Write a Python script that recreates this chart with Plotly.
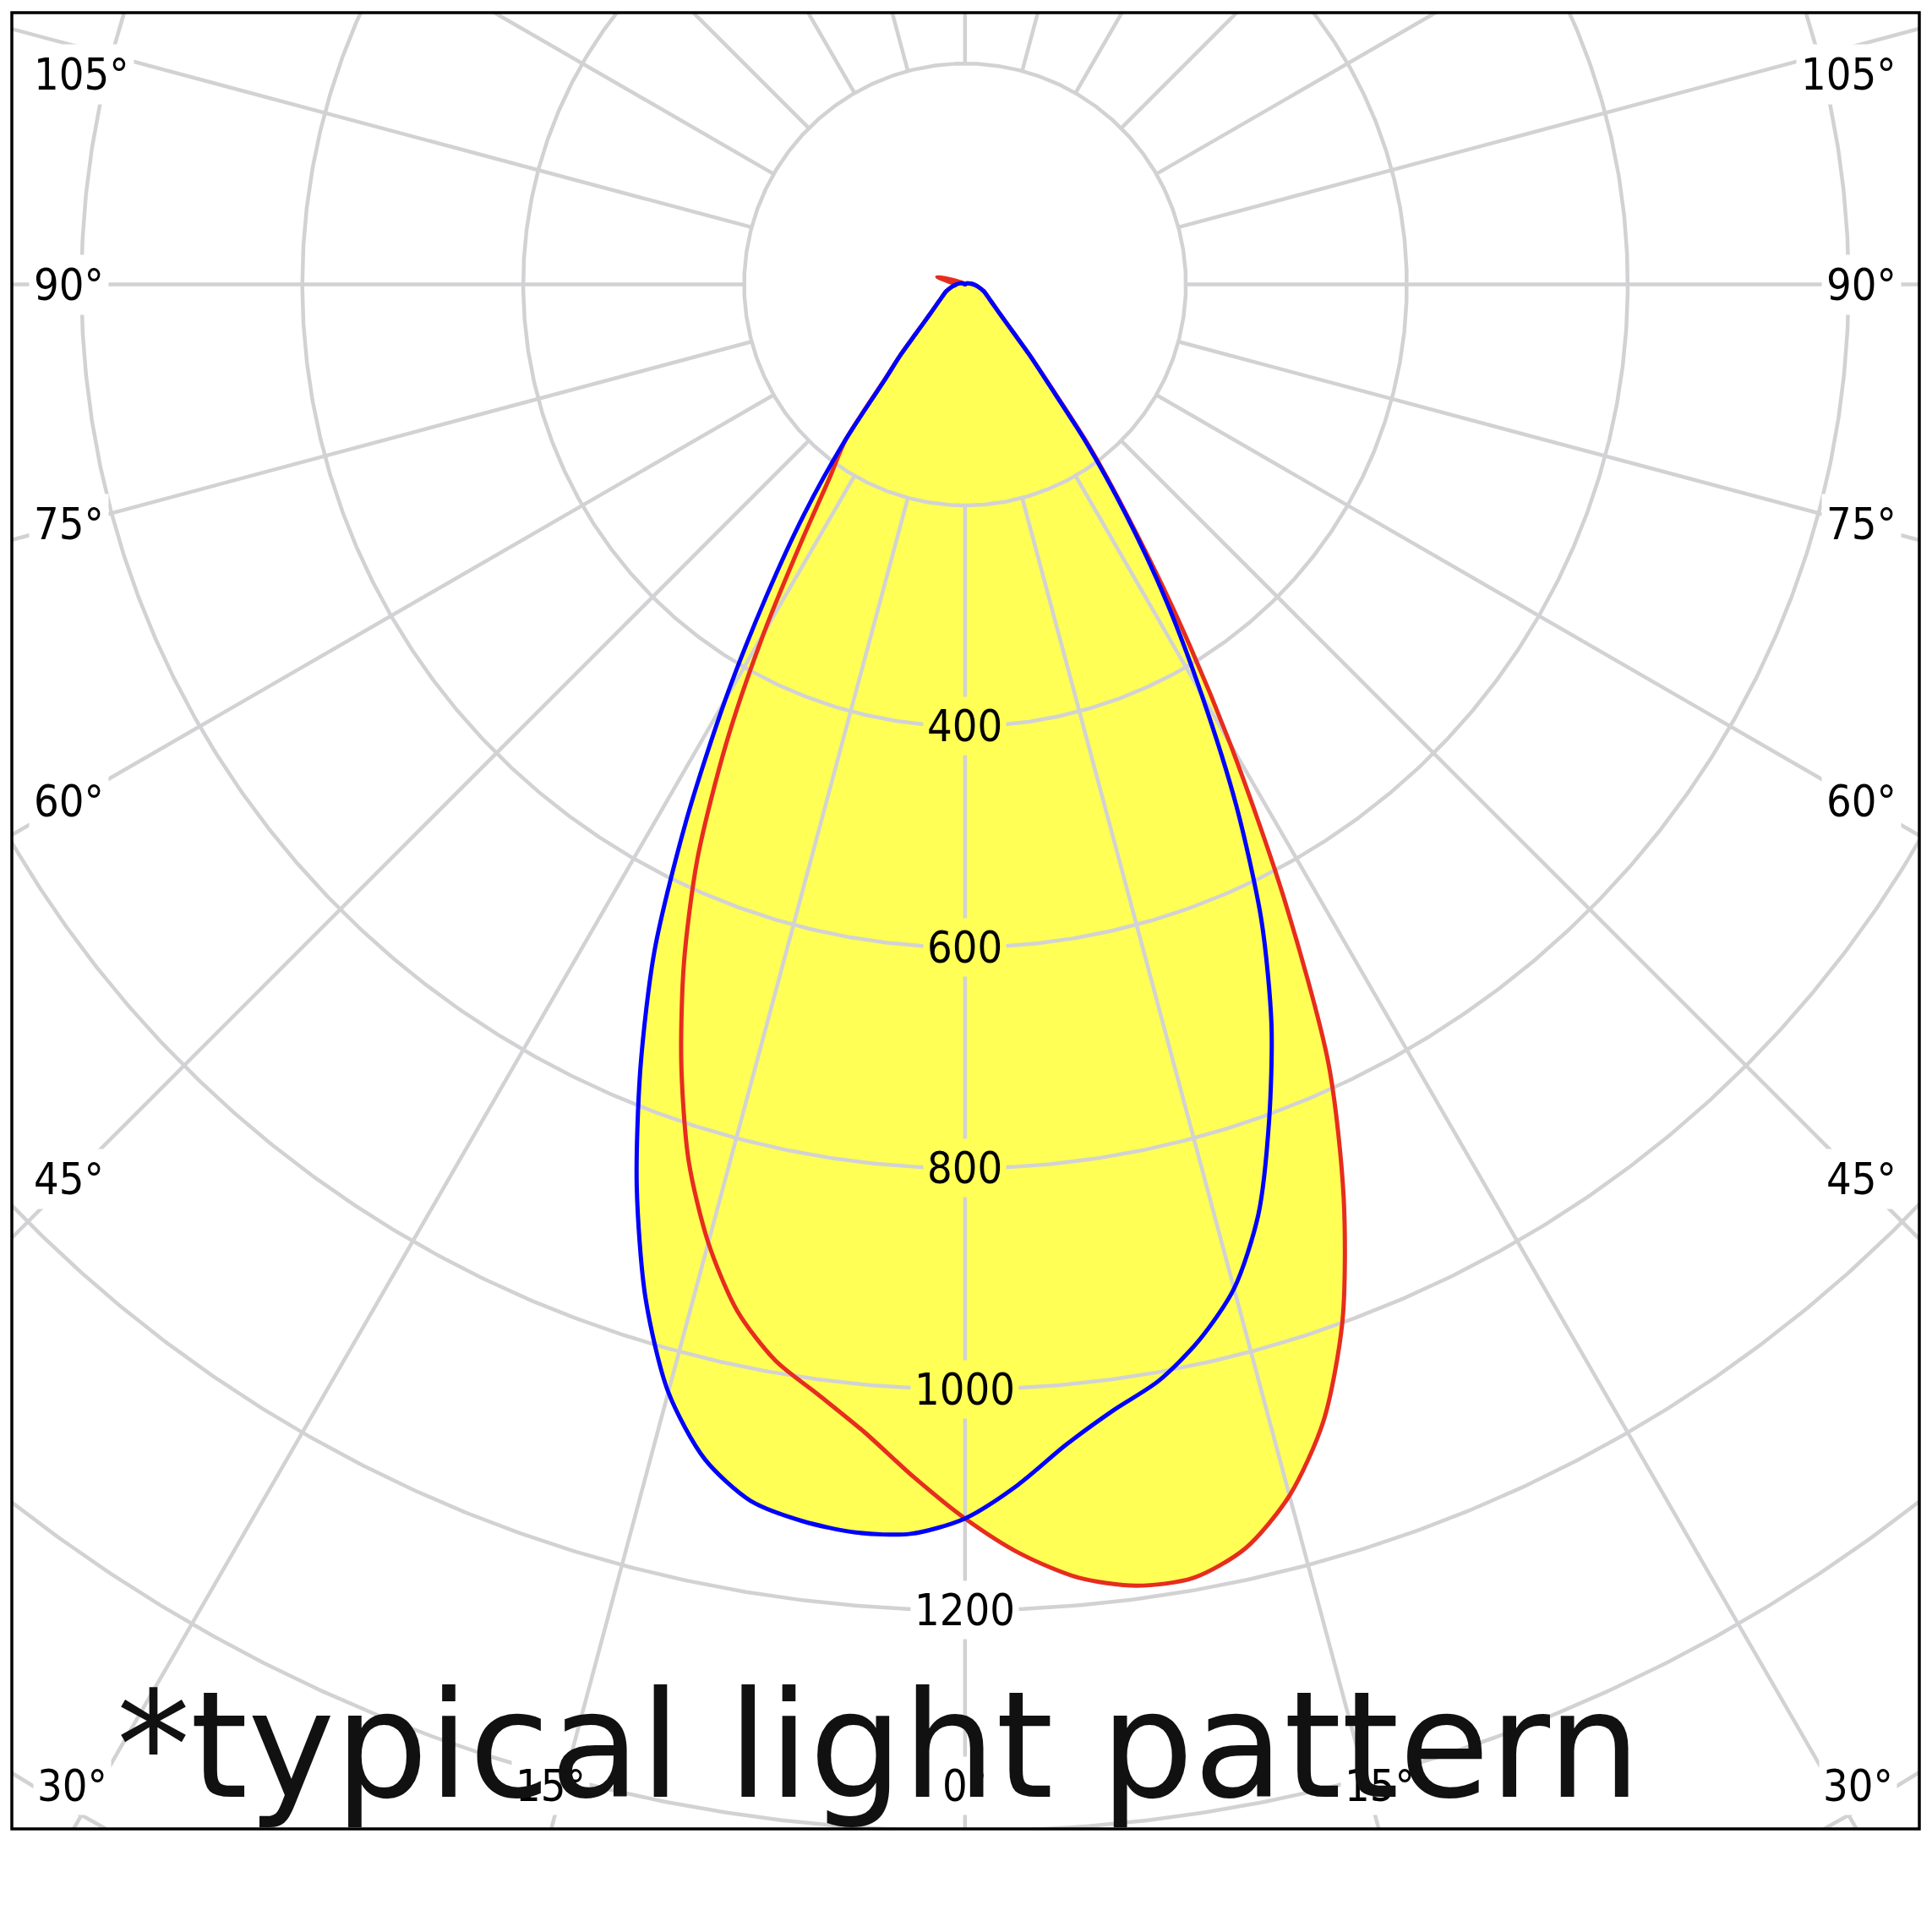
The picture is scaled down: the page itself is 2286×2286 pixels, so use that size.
import numpy as np
import plotly.graph_objects as go

# Photometric data: gamma angle (deg, 0 = straight down, negative = left half) and intensity (cd)
gamma = [-180, -120, -110, -105, -100, -90, -80, -70, -60, -50,
         -45, -42.5, -40, -37.5, -35, -32.5, -30, -27.5, -25, -22.5, -20, -17.5, -15, -12.5, -10, -7.5, -5, -2.5, 0,
         2.5, 5, 7.5, 10, 12.5, 15, 17.5, 20, 22.5, 25, 27.5, 30, 32.5, 35, 37.5, 40, 42.5, 45,
         50, 60, 70, 80, 90, 100, 110, 120, 180]

blue_cd = [0, 2, 3, 4, 5, 8, 12, 18, 25, 41,
           63, 86, 114, 180, 254, 335, 434, 546, 665, 768, 869, 962, 1038, 1089, 1118, 1129, 1134, 1132, 1117,
           1088, 1054, 1028, 1008, 979, 941, 883, 805, 725, 635, 532, 428, 338, 253, 180, 118, 86, 63,
           41, 25, 18, 12, 8, 5, 3, 2, 0]

red_cd = [0, 3, 12, 26, 15, 8, 12, 18, 25, 41,
          63, 86, 116, 178, 214, 275, 364, 468, 573, 665, 751, 832, 898, 952, 989, 1014, 1043, 1080, 1117,
          1150, 1175, 1188, 1189, 1172, 1135, 1079, 999, 896, 779, 624, 480, 358, 258, 185, 120, 86, 63,
          41, 25, 18, 12, 8, 5, 3, 2, 0]

ring_values = [200, 400, 600, 800, 1000, 1200, 1400, 1600, 1800, 2000, 2200]
ring_labels = ["400", "600", "800", "1000", "1200"]
spoke_angles = list(range(-180, 180, 15))
side_label_angles = [45, 60, 75, 90, 105]
bottom_label_angles = [0, 15, 30]
caption = "*typical light pattern"

YELLOW = "rgb(255,255,85)"
GRID = "rgb(210,210,212)"
RED = "rgb(230,45,30)"
BLUE = "rgb(0,0,255)"
LABEL_FONT = dict(family="DejaVu Sans Condensed, Liberation Sans, sans-serif", size=52, color="black")

X_RANGE = [-863, 864]
Y_RANGE = [-1398, 246]


def to_xy(ang_deg, r):
    a = np.radians(np.asarray(ang_deg, dtype=float))
    r = np.asarray(r, dtype=float)
    return r * np.sin(a), -r * np.cos(a)


fig = go.Figure()

# yellow fill (union of both curves)
for vals in (red_cd, blue_cd):
    x, y = to_xy(gamma, vals)
    fig.add_trace(go.Scatter(x=x, y=y, mode="none", fill="toself", fillcolor=YELLOW,
                             line=dict(shape="spline", smoothing=0.8),
                             hoverinfo="skip", showlegend=False))

# grid circles
th = np.linspace(0, 360, 1441)
cx, cy = [], []
for rv in ring_values:
    x, y = to_xy(th, np.full_like(th, rv))
    cx += list(x) + [None]
    cy += list(y) + [None]
fig.add_trace(go.Scatter(x=cx, y=cy, mode="lines", line=dict(color=GRID, width=4.5),
                         hoverinfo="skip", showlegend=False))

# grid spokes (from inner ring outwards)
sx, sy = [], []
for a in spoke_angles:
    x, y = to_xy([a, a], [ring_values[0], ring_values[-1]])
    sx += list(x) + [None]
    sy += list(y) + [None]
fig.add_trace(go.Scatter(x=sx, y=sy, mode="lines", line=dict(color=GRID, width=4.5),
                         hoverinfo="skip", showlegend=False))

# curves
for vals, col in ((red_cd, RED), (blue_cd, BLUE)):
    x, y = to_xy(gamma, vals)
    fig.add_trace(go.Scatter(x=x, y=y, mode="lines",
                             line=dict(color=col, width=5, shape="spline", smoothing=0.8),
                             hoverinfo="skip", showlegend=False))

annotations = []
# radial value labels
for lab in ring_labels:
    v = float(lab)
    inside = v < min(red_cd[gamma.index(0)], blue_cd[gamma.index(0)])
    _, y = to_xy([0], [v])
    annotations.append(dict(x=0, y=float(y[0]), xref="x", yref="y", text=lab, showarrow=False,
                            font=LABEL_FONT, bgcolor=YELLOW if inside else "white", borderpad=4,
                            xanchor="center", yanchor="middle"))

# angle labels on the sides
for a in side_label_angles:
    for s in (-1, 1):
        ye = -810 / np.tan(np.radians(a)) if a != 90 else 0.0
        ye = min(ye, 190)
        annotations.append(dict(x=s * 848, y=ye, xref="x", yref="y", text=f"{a}°", showarrow=False,
                                font=LABEL_FONT, bgcolor="white", borderpad=5,
                                xanchor="left" if s < 0 else "right", yanchor="middle"))
# angle labels at the bottom
for a in bottom_label_angles:
    for s in ((1,) if a == 0 else (-1, 1)):
        xe = s * 1400 * np.tan(np.radians(a))
        annotations.append(dict(x=xe, y=-1359, xref="x", yref="y", text=f"{a}°", showarrow=False,
                                font=LABEL_FONT, bgcolor="white", borderpad=4,
                                xanchor="center", yanchor="middle"))

# caption
annotations.append(dict(x=0.0545, y=-0.002, xref="paper", yref="paper", text=caption, showarrow=False,
                        font=dict(family="DejaVu Sans, sans-serif", size=174, color="#111111"),
                        xanchor="left", yanchor="bottom", borderpad=0))

fig.update_layout(
    width=2270, height=2270,
    margin=dict(l=6, r=7, t=7, b=114, pad=0),
    paper_bgcolor="white", plot_bgcolor="white",
    xaxis=dict(range=X_RANGE, visible=False, fixedrange=True),
    yaxis=dict(range=Y_RANGE, visible=False, fixedrange=True),
    annotations=annotations,
    shapes=[dict(type="rect", xref="paper", yref="paper", x0=0, y0=0, x1=1, y1=1,
                 line=dict(color="black", width=3.5), layer="above")],
    showlegend=False,
)

fig.write_html("out.html")
